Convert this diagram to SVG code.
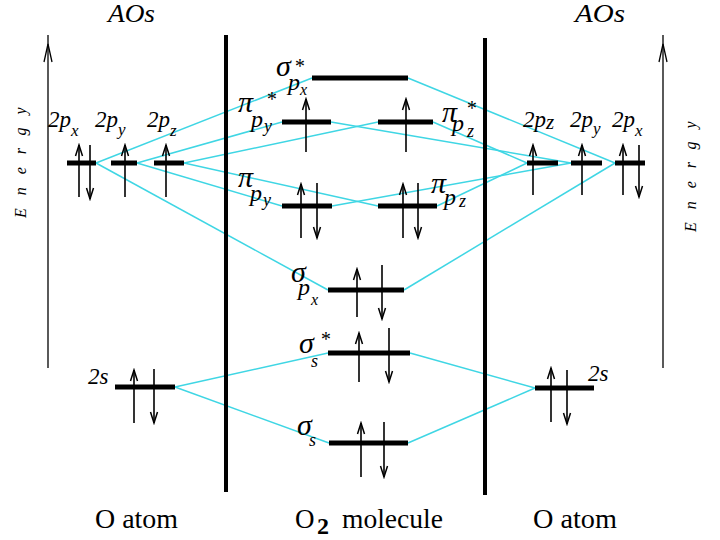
<svg xmlns="http://www.w3.org/2000/svg" width="720" height="540" viewBox="0 0 720 540">
<defs>
<marker id="ah" markerUnits="userSpaceOnUse" markerWidth="14" markerHeight="12" viewBox="-12 -6 14 12" refX="0" refY="0" orient="auto">
<path d="M-11,-3.5 L0,0 L-11,3.5" fill="none" stroke="#000" stroke-width="1.5"/>
</marker>
<style>
.lvl{stroke:#000;stroke-width:5;fill:none}
.e{stroke:#000;stroke-width:1.6;fill:none;marker-end:url(#ah)}
.ax{stroke:#000;stroke-width:1.3;fill:none}
.sep{stroke:#000;stroke-width:4;fill:none}
.c{stroke:#3fd6e4;stroke-width:1.5;fill:none}
.it{font-family:"Liberation Serif","Times New Roman",serif;font-style:italic;fill:#000}
.g{font-size:30px}
.sp{font-size:24px}
.ss{font-size:18px}
.st{font-size:20px}
.lab{font-family:"Liberation Serif","Times New Roman",serif;fill:#000;font-size:27px}
.en{font-family:"Liberation Serif","Times New Roman",serif;font-style:italic;font-size:16px;letter-spacing:13px;fill:#000}
</style>
</defs>
<rect width="720" height="540" fill="#fff"/>

<g id="connectors">
<line class="c" x1="96" y1="163" x2="312" y2="78"/>
<line class="c" x1="96" y1="163" x2="328" y2="290"/>
<line class="c" x1="137" y1="163" x2="282" y2="122"/>
<line class="c" x1="137" y1="163" x2="282" y2="206"/>
<line class="c" x1="184" y1="163" x2="378" y2="122"/>
<line class="c" x1="184" y1="163" x2="378" y2="206"/>
<line class="c" x1="408" y1="78" x2="615" y2="163"/>
<line class="c" x1="404" y1="290" x2="615" y2="163"/>
<line class="c" x1="331" y1="122" x2="571" y2="163"/>
<line class="c" x1="332" y1="206" x2="571" y2="163"/>
<line class="c" x1="433" y1="122" x2="527" y2="163"/>
<line class="c" x1="437" y1="206" x2="527" y2="163"/>
<line class="c" x1="175" y1="387" x2="328" y2="353"/>
<line class="c" x1="175" y1="387" x2="329" y2="443"/>
<line class="c" x1="410" y1="353" x2="535" y2="388"/>
<line class="c" x1="408" y1="443" x2="535" y2="388"/>
</g>

<g id="frame">
<line class="sep" x1="226" y1="35" x2="226" y2="492"/>
<line class="sep" x1="485" y1="38" x2="485" y2="495"/>
</g>

<g id="axis-left">
<line class="ax" x1="48" y1="368" x2="48" y2="35"/>
<path class="ax" d="M44,62 L48,44 L52,62" stroke-width="1.5"/>
<text class="en" transform="translate(26,218) rotate(-90)">Energy</text>
</g>
<g id="axis-right">
<line class="ax" x1="663" y1="368" x2="663" y2="35"/>
<path class="ax" d="M659,62 L663,44 L667,62" stroke-width="1.5"/>
<text class="en" transform="translate(696,232) rotate(-90)">Energy</text>
</g>

<g id="headers">
<text class="it" x="108" y="22" font-size="25" textLength="47" lengthAdjust="spacingAndGlyphs">AOs</text>
<text class="it" x="575" y="22" font-size="25" textLength="50" lengthAdjust="spacingAndGlyphs">AOs</text>
</g>

<g id="L-2px">
<line class="lvl" x1="67" y1="163" x2="96" y2="163"/>
<line class="e" x1="79" y1="197" x2="79" y2="145"/>
<line class="e" x1="90" y1="145" x2="90" y2="199"/>
<text class="it" x="48" y="127" font-size="23">2p<tspan font-size="17" dy="9">x</tspan></text>
</g>
<g id="L-2py">
<line class="lvl" x1="111" y1="163" x2="137" y2="163"/>
<line class="e" x1="125" y1="197" x2="125" y2="145"/>
<text class="it" x="95" y="127" font-size="23">2p<tspan font-size="17" dy="8">y</tspan></text>
</g>
<g id="L-2pz">
<line class="lvl" x1="154" y1="163" x2="184" y2="163"/>
<line class="e" x1="166" y1="197" x2="166" y2="145"/>
<text class="it" x="147" y="127" font-size="23">2p<tspan font-size="17" dy="9">z</tspan></text>
</g>
<g id="L-2s">
<line class="lvl" x1="115" y1="387" x2="175" y2="387"/>
<line class="e" x1="134" y1="423" x2="134" y2="370"/>
<line class="e" x1="154" y1="369" x2="154" y2="423"/>
<text class="it" x="88" y="384" font-size="23">2s</text>
</g>

<g id="R-2pz">
<line class="lvl" x1="527" y1="163" x2="558" y2="163"/>
<line class="e" x1="533" y1="195" x2="533" y2="145"/>
<text class="it" x="523" y="127" font-size="23">2p<tspan font-size="21" dy="2">z</tspan></text>
</g>
<g id="R-2py">
<line class="lvl" x1="571" y1="163" x2="602" y2="163"/>
<line class="e" x1="582" y1="195" x2="582" y2="145"/>
<text class="it" x="570" y="127" font-size="23">2p<tspan font-size="17" dy="7">y</tspan></text>
</g>
<g id="R-2px">
<line class="lvl" x1="615" y1="163" x2="645" y2="163"/>
<line class="e" x1="623" y1="195" x2="623" y2="145"/>
<line class="e" x1="639" y1="145" x2="639" y2="197"/>
<text class="it" x="612" y="127" font-size="23">2p<tspan font-size="17" dy="9">x</tspan></text>
</g>
<g id="R-2s">
<line class="lvl" x1="535" y1="388" x2="594" y2="388"/>
<line class="e" x1="551" y1="422" x2="551" y2="368"/>
<line class="e" x1="567" y1="370" x2="567" y2="424"/>
<text class="it" x="588" y="381" font-size="23">2s</text>
</g>

<g id="MO-sigma-star-px">
<line class="lvl" x1="312" y1="78" x2="408" y2="78"/>
<text class="it"><tspan class="g" x="276" y="76">σ</tspan><tspan class="st" x="294" y="73">*</tspan><tspan class="sp" x="288" y="90">p</tspan><tspan x="300" y="95" font-size="16">x</tspan></text>
</g>
<g id="MO-pi-star-py">
<line class="lvl" x1="282" y1="122" x2="331" y2="122"/>
<line class="e" x1="306" y1="152" x2="306" y2="99"/>
<text class="it"><tspan class="g" x="238" y="112">π</tspan><tspan class="st" x="266" y="106">*</tspan><tspan class="sp" x="251" y="127">p</tspan><tspan class="ss" x="264" y="132">y</tspan></text>
</g>
<g id="MO-pi-star-pz">
<line class="lvl" x1="378" y1="122" x2="433" y2="122"/>
<line class="e" x1="406" y1="152" x2="406" y2="99"/>
<text class="it"><tspan class="g" x="442" y="122">π</tspan><tspan class="st" x="466" y="115">*</tspan><tspan class="sp" x="452" y="131">p</tspan><tspan class="ss" x="467" y="137">z</tspan></text>
</g>
<g id="MO-pi-py">
<line class="lvl" x1="282" y1="206" x2="332" y2="206"/>
<line class="e" x1="301" y1="238" x2="301" y2="184"/>
<line class="e" x1="317" y1="183" x2="317" y2="238"/>
<text class="it"><tspan class="g" x="238" y="187">π</tspan><tspan class="sp" x="250" y="201">p</tspan><tspan class="ss" x="263" y="206">y</tspan></text>
</g>
<g id="MO-pi-pz">
<line class="lvl" x1="378" y1="206" x2="437" y2="206"/>
<line class="e" x1="403" y1="238" x2="403" y2="184"/>
<line class="e" x1="418" y1="183" x2="418" y2="238"/>
<text class="it"><tspan class="g" x="431" y="193">π</tspan><tspan class="sp" x="444" y="205">p</tspan><tspan class="ss" x="459" y="207">z</tspan></text>
</g>
<g id="MO-sigma-px">
<line class="lvl" x1="328" y1="290" x2="404" y2="290"/>
<line class="e" x1="357" y1="317" x2="357" y2="269"/>
<line class="e" x1="382" y1="265" x2="382" y2="319"/>
<text class="it"><tspan class="g" x="291" y="282">σ</tspan><tspan class="sp" x="298" y="295">p</tspan><tspan x="311" y="305" font-size="16">x</tspan></text>
</g>
<g id="MO-sigma-star-s">
<line class="lvl" x1="328" y1="353" x2="410" y2="353"/>
<line class="e" x1="359" y1="382" x2="359" y2="333"/>
<line class="e" x1="389" y1="328" x2="389" y2="382"/>
<text class="it"><tspan class="g" x="299" y="353">σ</tspan><tspan class="st" x="320" y="346">*</tspan><tspan class="ss" x="311" y="367">s</tspan></text>
</g>
<g id="MO-sigma-s">
<line class="lvl" x1="329" y1="443" x2="408" y2="443"/>
<line class="e" x1="361" y1="477" x2="361" y2="423"/>
<line class="e" x1="384" y1="422" x2="384" y2="477"/>
<text class="it"><tspan class="g" x="297" y="435">σ</tspan><tspan class="ss" x="309" y="446">s</tspan></text>
</g>

<g id="captions">
<text class="lab" x="95" y="528" textLength="83" lengthAdjust="spacingAndGlyphs">O atom</text>
<text class="lab"><tspan x="295" y="528">O</tspan><tspan x="317" y="534" font-size="24" font-weight="bold">2</tspan><tspan x="342" y="528" textLength="101" lengthAdjust="spacingAndGlyphs">molecule</tspan></text>
<text class="lab" x="533" y="528" textLength="84" lengthAdjust="spacingAndGlyphs">O atom</text>
</g>
</svg>
